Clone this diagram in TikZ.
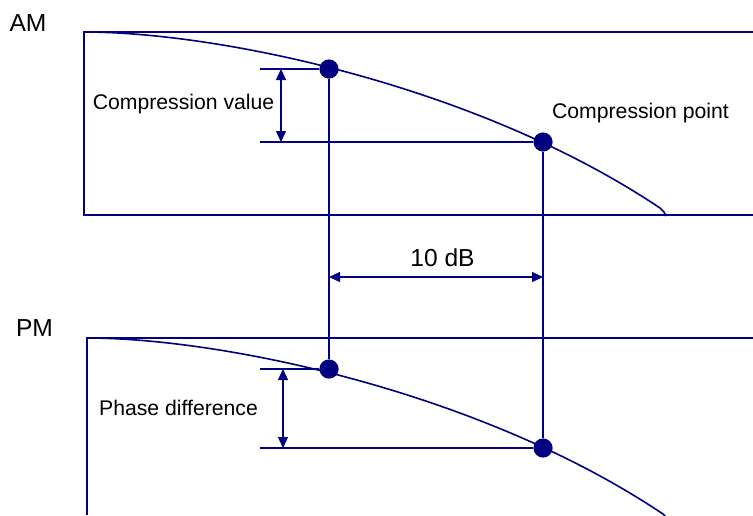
\documentclass[tikz,border=0pt]{standalone}
\usepackage[dvipsnames,svgnames,x11names]{xcolor}
\usepackage{fontspec}
\setmainfont{Liberation Sans}
\usetikzlibrary{arrows.meta}
\tikzset{
  dotV/.style={circle, fill=Navy, inner sep=0pt, minimum size=9.6pt},
  frameL/.style={draw=Navy, line width=1pt},
  curveL/.style={draw=Navy, line width=0.8pt},
  thinL/.style={draw=Navy, line width=0.65pt},
  dimL/.style={draw=Navy, line width=0.65pt,
               {Triangle[length=5.5pt,width=5pt]}-{Triangle[length=5.5pt,width=5pt]}},
  txtS/.style={font=\fontsize{10.6}{12}\selectfont, inner sep=0pt},
  txtL/.style={font=\fontsize{12.3}{14}\selectfont, inner sep=0pt},
}

\begin{document}
\begin{tikzpicture}[x=0.5pt, y=-0.5pt]
    \useasboundingbox (0,0) rectangle (753,515);
    \clip (0,0) rectangle (753,515);
    \draw[frameL] (753,32) -- (84,32) -- (84,215) -- (753,215);
    \draw[frameL] (753,338) -- (87,338) -- (87,515);
    \draw[curveL] (84,32) .. controls (220,32) and (478,86) .. (660,208)
      .. controls (663,210) and (665,213) .. (666,216);
    \draw[curveL] (87,338) .. controls (223,338) and (481,392) .. (663,514)
      .. controls (666,516) and (668,519) .. (669,522);
    \foreach \n/\x/\y in {p1/329/69,p2/543/142,q1/329/369,q2/543/448}{
      \node[dotV] (\n) at (\x,\y) {};
    }
    \foreach \n/\x/\y in {a1/260/69,a2/260/142,b1/260/369,b2/260/448,
                          c1/281/69,c2/281/142,d1/283/369,d2/283/448,
                          e1/329/277,e2/543/277}{
      \coordinate (\n) at (\x,\y);
    }
    \draw[thinL] (a1) -- (p1) (a2) -- (p2) (b1) -- (q1) (b2) -- (q2);
    \draw[thinL] (p1) -- (q1) (p2) -- (q2);
    \draw[dimL] (c1) -- (c2);
    \draw[dimL] (d1) -- (d2);
    \draw[dimL] (e1) -- (e2);
    \node[txtL, anchor=base] (am) at (28,31.7) {AM};
    \node[txtL, anchor=base] (pm) at (34.5,336.7) {PM};
    \node[txtS, anchor=base] (cval) at (183.5,109.3) {Compression value};
    \node[txtS, anchor=base] (cpt) at (640.5,118.3) {Compression point};
    \node[txtS, anchor=base] (phd) at (178.5,415) {Phase difference};
    \node[txtL, anchor=base] (ten) at (442.5,266.7) {10 dB};
  \end{tikzpicture}
\end{document}
